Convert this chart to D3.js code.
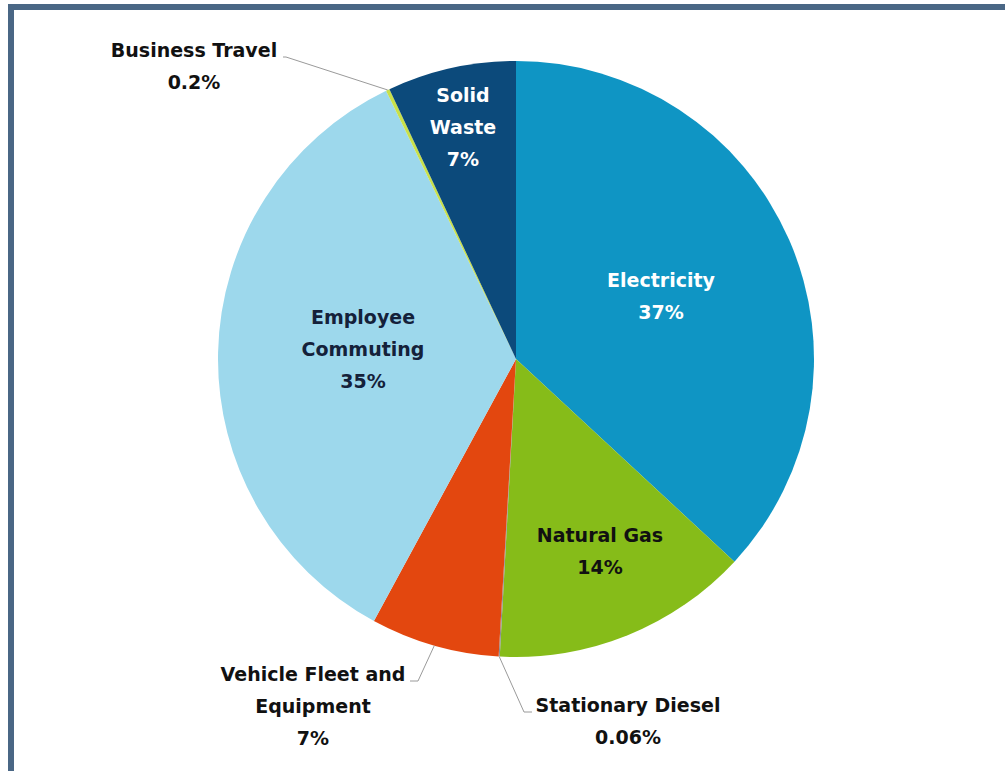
<!DOCTYPE html>
<html>
<head>
<meta charset="utf-8">
<script src="https://cdn.jsdelivr.net/npm/d3@7"></script>
<style>
  html, body { margin: 0; padding: 0; background: #ffffff; }
  svg { display: block; }
  text { font-family: "DejaVu Sans", "Open Sans", sans-serif; font-weight: 700; }
</style>
</head>
<body>
<svg id="chart" width="1005" height="771"></svg>
<script>
// Emission sources, clockwise from 12 o'clock
const categories = ["Electricity", "Natural Gas", "Stationary Diesel", "Vehicle Fleet and Equipment",
                    "Employee Commuting", "Business Travel", "Solid Waste"];
const shares = [37, 14, 0.06, 7, 35, 0.2, 7];
const shareLabels = ["37%", "14%", "0.06%", "7%", "35%", "0.2%", "7%"];
const labelLines = [["Electricity"], ["Natural Gas"], ["Stationary Diesel"], ["Vehicle Fleet and", "Equipment"],
                    ["Employee", "Commuting"], ["Business Travel"], ["Solid", "Waste"]];
const sliceColors = ["#0f95c4", "#86bc19", "#8a8f94", "#e3470f", "#9dd8ec", "#c8e04a", "#0c4a7b"];
const textColors = ["#ffffff", "#111111", "#111111", "#111111", "#14213a", "#111111", "#ffffff"];

const svg = d3.select("#chart");
const W = 1005, H = 771;

// frame edges
svg.append("rect").attr("x", 8).attr("y", 4).attr("width", W - 8).attr("height", 6).attr("fill", "#4a6785");
svg.append("rect").attr("x", 8).attr("y", 4).attr("width", 6).attr("height", H - 4).attr("fill", "#4a6785");

const cx = 516, cy = 359, R = 298;
const g = svg.append("g").attr("transform", `translate(${cx},${cy})`);

const data = categories.map((c, i) => ({ name: c, value: shares[i], i }));
const pie = d3.pie().sort(null).value(d => d.value);
const arcs = pie(data);
const arc = d3.arc().innerRadius(0).outerRadius(R);

g.selectAll("path.slice")
  .data(arcs)
  .join("path")
  .attr("class", "slice")
  .attr("d", arc)
  .attr("fill", d => sliceColors[d.data.i]);

// label placement (centre of text block) and leader-line elbows for the outside labels
const labelPos = {
  "Electricity": [661, 296],
  "Natural Gas": [600, 551],
  "Stationary Diesel": [628, 721],
  "Vehicle Fleet and Equipment": [313, 706],
  "Employee Commuting": [363, 349],
  "Business Travel": [194, 66],
  "Solid Waste": [463, 127]
};
const leaders = {
  "Business Travel": { elbow: [286, 57], end: [283, 57] },
  "Stationary Diesel": { elbow: [524, 712], end: [532, 712] },
  "Vehicle Fleet and Equipment": { elbow: [418, 681], end: [410, 681] }
};

const lineH = 32;
arcs.forEach(a => {
  const name = a.data.name;
  const L = leaders[name];
  if (L) {
    const mid = (a.startAngle + a.endAngle) / 2;
    const sx = cx + R * Math.sin(mid), sy = cy - R * Math.cos(mid);
    svg.append("polyline")
      .attr("points", [[sx, sy], L.elbow, L.end].map(p => p.join(",")).join(" "))
      .attr("fill", "none")
      .attr("stroke", "#9a9a9a")
      .attr("stroke-width", 1);
  }
});

arcs.forEach(a => {
  const name = a.data.name;
  const i = a.data.i;
  const lines = labelLines[i].concat([shareLabels[i]]);
  const [lx, ly] = labelPos[name];
  const t = svg.append("text")
    .attr("text-anchor", "middle")
    .attr("fill", textColors[i])
    .attr("font-size", 19);
  lines.forEach((s, k) => {
    t.append("tspan")
      .attr("x", lx)
      .attr("y", ly + (k - (lines.length - 1) / 2) * lineH)
      .attr("dy", "0.35em")
      .text(s);
  });
});
</script>
</body>
</html>
